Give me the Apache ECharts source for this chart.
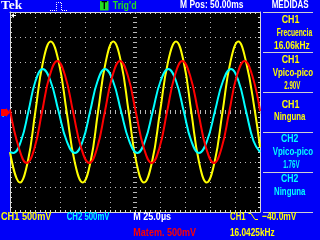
<!DOCTYPE html>
<html><head><meta charset="utf-8">
<script src="https://cdn.jsdelivr.net/npm/echarts@6/dist/echarts.min.js"></script>
<style>html,body{margin:0;padding:0;background:#0000f8;overflow:hidden}#c{width:320px;height:240px}</style>
</head><body><div id="c"></div>
<script>
// time in microseconds (0 = screen centre), volts
const ch1Time = [-125,-115,-107.3,-99.7,-92,-84.3,-76.3,-68.3,-60.3,-52.3,-44.5,-37,-29.3,-21.7,-14,-6.3,1.3,9,17,25,33,41,48.7,56.3,64,71.7,79.6,87.5,95.4,103.3,111.1,120,125];
const ch1Volts = [-0.8,-1.41,-1.0,0,1.0,1.41,1.0,0,-1.0,-1.41,-1.0,0,1.0,1.41,1.0,0,-1.0,-1.41,-1.0,0,1.0,1.41,1.0,0,-1.0,-1.41,-1.0,0,1.0,1.41,1.0,0,-0.7];
const ch2Time = [-125,-121.7,-114,-106.5,-99.5,-92.3,-84.5,-76.5,-68.3,-60,-52.3,-44.8,-37.4,-30,-22,-14,-5.8,2.3,10,17.8,25.6,33.3,41,48.7,56.3,64,72,80,88,96,103.5,111,118.5,125];
const ch2Volts = [-0.8,-0.82,-0.58,0.02,0.62,0.86,0.62,0.02,-0.58,-0.82,-0.58,0.02,0.62,0.86,0.62,0.02,-0.58,-0.82,-0.58,0.02,0.62,0.86,0.62,0.02,-0.58,-0.82,-0.58,0.02,0.62,0.86,0.62,0.02,-0.58,-0.8];
const mathTime = [-125,-116.1,-108.3,-100.5,-93,-85.4,-77.7,-69.8,-61.9,-53.8,-45.7,-37.9,-30.2,-22.6,-15,-7.1,0.8,8.8,16.7,24.4,32,39.7,47.3,55.2,63.2,71.1,79,86.6,94.2,101.8,109.6,117.4,125];
const mathVolts = [0.05,-0.72,-1.02,-0.72,0,0.72,1.02,0.72,0,-0.72,-1.02,-0.72,0,0.72,1.02,0.72,0,-0.72,-1.02,-0.72,0,0.72,1.02,0.72,0,-0.72,-1.02,-0.72,0,0.72,1.02,0.72,0.02];

const seriesNames = ['CH1','CH2','Matem.'];
const topTexts = ['Tek','T',"Trig'd",'M Pos: 50.00ms','MEDIDAS'];
const panelTexts = [['CH1','Frecuencia','16.06kHz'],['CH1','Vpico-pico','2.90V'],['CH1','Ninguna'],['CH2','Vpico-pico','1.76V'],['CH2','Ninguna']];
const bottomTexts = ['CH1 500mV','CH2 500mV','M 25.0\u00b5s','Matem. 500mV','CH1','\u221240.0mV','16.0425kHz'];

const zip = (a,b) => a.map((t,i) => [t, b[i]]);

const YEL='#ffff00', CYA='#00ffff', RED='#ff0000', WHT='#ffffff', GRN='#22dd22';
const F = 'bold 11px "Liberation Sans", Arial, sans-serif';
const mctx = document.createElement('canvas').getContext('2d');
function fit(txt, x1, x2, yc, color, font) {
  font = font || F;
  mctx.font = font;
  const m = mctx.measureText(txt);
  const abl = m.actualBoundingBoxLeft || 0, abr = m.actualBoundingBoxRight || m.width;
  const s = (x2 - x1) / (abl + abr);
  return {type:'text', x: x1 + s*abl, y: yc, scaleX: s, silent:true, z:10,
    style:{text:txt, fill:color, font:font, textAlign:'left', textVerticalAlign:'middle', align:'left', verticalAlign:'middle'}};
}
const hline = (x1,x2,y,c) => ({type:'line', silent:true, shape:{x1:x1,y1:y,x2:x2,y2:y}, style:{stroke:c||'#d0d0d0', lineWidth:1}});

const graphics = [];
graphics.push(fit(topTexts[0], 1, 23, 5.8, WHT, 'bold 13px "Liberation Serif", serif'));
graphics.push({type:'polyline', silent:true, shape:{points:[[50,10.5],[56.5,10.5],[56.5,2.5],[61.5,2.5],[61.5,10.5],[68,10.5]]}, style:{stroke:WHT, fill:null, lineWidth:1, lineDash:[1,1]}});
graphics.push({type:'rect', silent:true, shape:{x:100, y:1, width:8.5, height:9.5}, style:{fill:GRN}});
graphics.push(fit(topTexts[1], 101.5, 107, 5.8, '#000', 'bold 10px "Liberation Sans", sans-serif'));
graphics.push(fit(topTexts[2], 112.7, 136, 5.5, GRN));
graphics.push(fit(topTexts[3], 180, 243.3, 5.3, WHT));
graphics.push(fit(topTexts[4], 271.7, 308.3, 5.3, WHT));
// panel separators
[12.5, 52.5, 92.5, 132.5, 172.5, 212.5].forEach(y => graphics.push(hline(263, 313, y)));
// panel texts
const panelLayout = [
  {c:YEL, rows:[[281.7,299.3,20.3],[276.7,312.7,33],[274,310,45.5]]},
  {c:YEL, rows:[[281.7,299.3,60.3],[272.7,313.3,73],[284.3,300.7,85.5]]},
  {c:YEL, rows:[[281.7,299.3,104.5],[274,306,117]]},
  {c:CYA, rows:[[281,298.3,139],[272.7,313.3,152],[283.3,300,164.5]]},
  {c:CYA, rows:[[281,298.3,179],[274,306,192]]}
];
panelLayout.forEach((b, i) => b.rows.forEach((r, j) => graphics.push(fit(panelTexts[i][j], r[0], r[1], r[2], b.c))));
// bottom texts
graphics.push(fit(bottomTexts[0], 1, 52, 216.5, YEL));
graphics.push(fit(bottomTexts[1], 66.7, 110, 216.5, CYA));
graphics.push(fit(bottomTexts[2], 133.3, 171, 216.5, WHT));
graphics.push(fit(bottomTexts[3], 133.3, 196.7, 232.5, RED));
graphics.push(fit(bottomTexts[4], 230, 245.5, 216.5, YEL));
graphics.push({type:'polyline', silent:true, shape:{points:[[248.5,213.5],[251,213.5],[255,219.5],[258,219.5]]}, style:{stroke:YEL, fill:null, lineWidth:1}});
graphics.push(fit(bottomTexts[5], 262, 297, 216.5, YEL));
graphics.push(fit(bottomTexts[6], 230, 275, 232.5, YEL));
// trigger position marker (top-left) and left channel markers
graphics.push({type:'polyline', silent:true, z:20, shape:{points:[[16,15.5],[11.5,15.5]]}, style:{stroke:WHT, lineWidth:1}});
graphics.push({type:'polygon', silent:true, z:20, shape:{points:[[11,15.5],[14,13],[14,18]]}, style:{fill:WHT}});
graphics.push({type:'polygon', silent:true, z:20, shape:{points:[[1,109],[6,109],[6,108],[10,112.5],[6,117],[6,116],[1,116]]}, style:{fill:RED}});
graphics.push(fit('M', 1.5, 5.5, 111, YEL, 'bold 6px "Liberation Sans", sans-serif'));
graphics.push(fit('1', 2, 4.5, 115, CYA, 'bold 6px "Liberation Sans", sans-serif'));

const GRIDC = '#b8b8b8', BORD = '#d8d8d8';
function xAx(pos, opts) {
  return Object.assign({type:'value', min:-125, max:125, interval:25, position:pos,
    axisLabel:{show:false}, splitLine:{show:false},
    axisLine:{show:true, onZero:false, lineStyle:{color:BORD, width:1}},
    axisTick:{show:true, inside:true, length:2, lineStyle:{color:BORD}},
    minorTick:{show:true, splitNumber:5, length:2, lineStyle:{color:BORD}}}, opts||{});
}
function yAx(pos, opts) {
  return Object.assign({type:'value', min:-2, max:2, interval:0.5, position:pos,
    axisLabel:{show:false}, splitLine:{show:false},
    axisLine:{show:true, onZero:false, lineStyle:{color:BORD, width:1}},
    axisTick:{show:true, inside:true, length:2, lineStyle:{color:BORD}},
    minorTick:{show:true, splitNumber:5, length:2, lineStyle:{color:BORD}}}, opts||{});
}
const centre = (inside) => ({axisLine:{show:true, onZero:true, lineStyle:{color:BORD, opacity:0}},
  axisTick:{show:true, inside:inside, length:2, lineStyle:{color:GRIDC}},
  minorTick:{show:true, splitNumber:5, length:2, lineStyle:{color:GRIDC}}});

const chart = echarts.init(document.getElementById('c'), null, {renderer:'canvas'});
chart.setOption({
  animation:false,
  backgroundColor:'#0000f8',
  grid:{left:10, top:12, width:250, height:200, show:true, backgroundColor:'#000000', borderWidth:0, containLabel:false, outerBoundsMode:'none'},
  xAxis:[
    xAx('bottom', {splitLine:{show:true, lineStyle:{color:GRIDC, type:[1,4], width:1}}}),
    xAx('top'),
    xAx('bottom', centre(true)),
    xAx('top', centre(true))
  ],
  yAxis:[
    yAx('left', {splitLine:{show:true, lineStyle:{color:GRIDC, type:[1,4], width:1}}}),
    yAx('right'),
    yAx('left', centre(true)),
    yAx('right', centre(true))
  ],
  series:[
    {name:seriesNames[0], type:'line', data:zip(ch1Time, ch1Volts), showSymbol:false, symbol:'none', smooth:0.45, lineStyle:{color:YEL, width:2}, itemStyle:{color:YEL}, z:3},
    {name:seriesNames[1], type:'line', data:zip(ch2Time, ch2Volts), showSymbol:false, symbol:'none', smooth:0.45, lineStyle:{color:CYA, width:2}, itemStyle:{color:CYA}, z:4},
    {name:seriesNames[2], type:'line', data:zip(mathTime, mathVolts), showSymbol:false, symbol:'none', smooth:0.45, lineStyle:{color:RED, width:2}, itemStyle:{color:RED}, z:5}
  ],
  graphic:graphics
});
</script></body></html>
